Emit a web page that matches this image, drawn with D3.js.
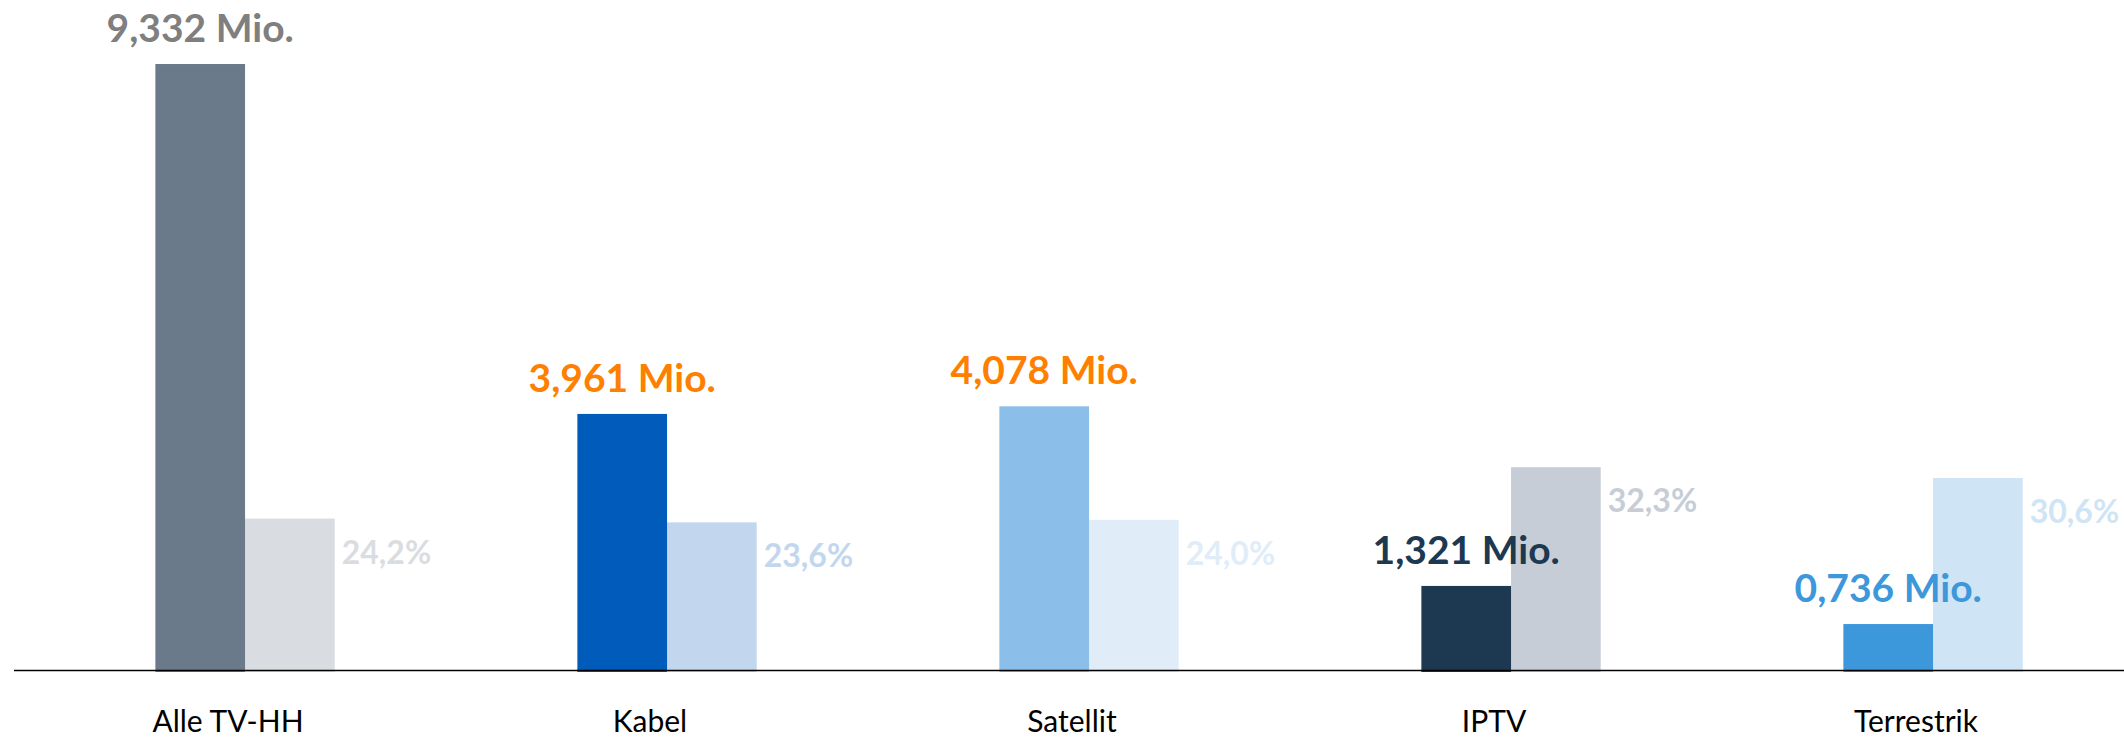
<!DOCTYPE html>
<html>
<head>
<meta charset="utf-8">
<script src="https://cdn.jsdelivr.net/npm/d3@7"></script>
<style>
  html, body { margin: 0; padding: 0; background: #fff; }
  svg text { font-family: Lato, "Open Sans", sans-serif; }
</style>
</head>
<body>
<svg id="chart" width="2124" height="740"></svg>
<script>
var categories = ["Alle TV-HH", "Kabel", "Satellit", "IPTV", "Terrestrik"];
var households = [9.332, 3.961, 4.078, 1.321, 0.736];   // Mio.
var shares = [24.2, 23.6, 24.0, 32.3, 30.6];            // %

var darkColors  = ["#6b7a8b", "#005bbb", "#8bbfe9", "#1d3851", "#3d97db"];
var lightColors = ["#d9dde2", "#c2d7ee", "#e0edf9", "#c6cdd6", "#cfe4f4"];
var labelColors = ["#7f7f7f", "#ff7f00", "#ff7f00", "#1d3851", "#3d97db"];

var fmt = d3.formatLocale({decimal: ",", thousands: ".", grouping: [3], currency: ["", "€"]});
var fmtMio = fmt.format(".3f"),
    fmtPct = fmt.format(".1f");

var data = categories.map(function(c, i) {
  return {cat: c, hh: households[i], pct: shares[i], i: i};
});

var svg = d3.select("#chart"),
    width = +svg.attr("width"),
    baseline = 672;

var x = d3.scaleBand().domain(categories).range([14, width]).padding(0);
var bw = x.bandwidth();
var sub = d3.scaleBand().domain(["hh", "pct"]).range([bw * 0.335, bw * 0.76]);

var yMio = d3.scaleLinear().domain([0, 10]).range([baseline, baseline - 651.5]);
var yPct = d3.scaleLinear().domain([0, 100]).range([baseline, baseline - 634]);

var g = svg.append("g");

// share bars (behind)
g.selectAll(".bar-pct")
  .data(data)
  .enter().append("rect")
    .attr("class", "bar-pct")
    .attr("x", function(d) { return x(d.cat) + sub("pct"); })
    .attr("y", function(d) { return yPct(d.pct); })
    .attr("width", sub.bandwidth())
    .attr("height", function(d) { return baseline - yPct(d.pct); })
    .attr("fill", function(d) { return lightColors[d.i]; });

// household bars
g.selectAll(".bar-hh")
  .data(data)
  .enter().append("rect")
    .attr("class", "bar-hh")
    .attr("x", function(d) { return x(d.cat) + sub("hh"); })
    .attr("y", function(d) { return yMio(d.hh); })
    .attr("width", sub.bandwidth())
    .attr("height", function(d) { return baseline - yMio(d.hh); })
    .attr("fill", function(d) { return darkColors[d.i]; });

// axis line
g.append("line")
    .attr("x1", 14).attr("x2", width)
    .attr("y1", baseline - 1.5).attr("y2", baseline - 1.5)
    .style("stroke", "#000")
    .style("stroke-width", "1.5px");

// category labels
g.selectAll(".cat-label")
  .data(data)
  .enter().append("text")
    .attr("class", "cat-label")
    .attr("x", function(d) { return x(d.cat) + bw / 2 + 3; })
    .attr("y", 732)
    .attr("text-anchor", "middle")
    .style("font-size", "30px")
    .style("fill", "#000")
    .text(function(d) { return d.cat; });

// Mio. labels
g.selectAll(".hh-label")
  .data(data)
  .enter().append("text")
    .attr("class", "hh-label")
    .attr("x", function(d) { return x(d.cat) + sub("hh") + sub.bandwidth() / 2; })
    .attr("y", function(d) { return yMio(d.hh) - 22; })
    .attr("text-anchor", "middle")
    .style("font-size", "39px")
    .style("font-weight", "bold")
    .style("fill", function(d) { return labelColors[d.i]; })
    .text(function(d) { return fmtMio(d.hh) + " Mio."; });

// share labels
g.selectAll(".pct-label")
  .data(data)
  .enter().append("text")
    .attr("class", "pct-label")
    .attr("x", function(d) { return x(d.cat) + sub("pct") + sub.bandwidth() + 7; })
    .attr("y", function(d) { return yPct(d.pct) + 45; })
    .style("font-size", "32px")
    .style("font-weight", "bold")
    .style("fill", function(d) { return lightColors[d.i]; })
    .text(function(d) { return fmtPct(d.pct) + "%"; });
</script>
</body>
</html>
